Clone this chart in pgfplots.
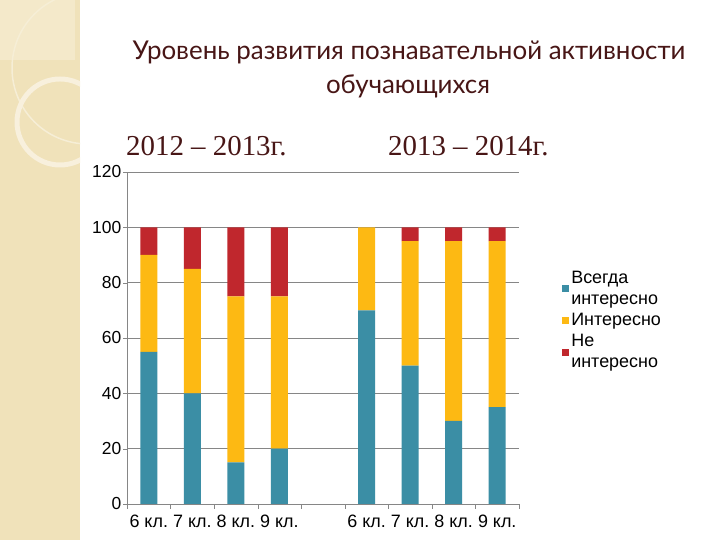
\documentclass[border=0pt]{standalone}
\usepackage{pgfplots}
\pgfplotsset{compat=1.18}
\usepackage{pgfplotstable}
\usepackage{fontspec}
\setmainfont{Liberation Sans}
\newfontfamily\titlefont{Lato}
\newfontfamily\yearfont{Liberation Serif}

\definecolor{cteal}{RGB}{59,142,165}
\definecolor{cyellow}{RGB}{253,185,19}
\definecolor{cred}{RGB}{192,39,45}
\definecolor{cgrid}{RGB}{134,134,134}
\definecolor{titlecol}{RGB}{72,22,22}
\definecolor{strip}{RGB}{240,226,186}
\definecolor{stripl}{RGB}{244,233,202}

% 1..4 = 2012-2013, 6..9 = 2013-2014
\pgfplotstableread{
x always interesting not
1 55 35 10
2 40 45 15
3 15 60 25
4 20 55 25
6 70 30 0
7 50 45 5
8 30 65 5
9 35 60 5
}\datatable

\begin{document}
\begin{tikzpicture}[x=1bp,y=1bp]
% slide background
\fill[white] (0,0) rectangle (720,540);
\fill[strip] (0,0) rectangle (80,540);
\begin{scope}
  \clip (0,0) rectangle (80,540);
  \fill[stripl] (0,480) rectangle (75,540);
  \draw[white!40!strip, line width=1.5pt] (88,472) circle (76);
  \draw[white!50!strip, line width=5pt] (60,418) circle (43);
\end{scope}

\begin{axis}[
  at={(127bp,36bp)}, anchor=south west,
  scale only axis, width=392bp, height=332bp,
  ybar stacked, bar width=17bp,
  xmin=0.5, xmax=9.5, ymin=0, ymax=120,
  ytick={0,20,...,120},
  xtick={1,2,3,4,6,7,8,9},
  xticklabels={6 кл.,7 кл.,8 кл.,9 кл.,6 кл.,7 кл.,8 кл.,9 кл.},
  minor xtick={0.5,1.5,2.5,3.5,4.5,5.5,6.5,7.5,8.5,9.5},
  major x tick style={draw=none},
  minor x tick style={draw=cgrid},
  ytick style={draw=cgrid},
  tick align=outside,
  major tick length=4bp, minor tick length=5bp,
  axis x line*=bottom, axis y line*=left,
  axis line style={-, draw=cgrid},
  ymajorgrids, grid style={cgrid, line width=0.6pt},
  yticklabel style={font=\fontsize{17.5}{20}\selectfont, black, inner xsep=1.5bp},
  xticklabel style={font=\fontsize{18}{21}\selectfont, black, inner xsep=0pt,
    text height=13bp, text depth=4bp, yshift=-3bp},
  /pgf/number format/assume math mode=true,
  legend style={at={(1.11,0.708)}, anchor=north west, draw=none, fill=none,
    font=\fontsize{18}{21}\selectfont, cells={align=left, anchor=west},
    row sep=3.5pt, inner sep=0pt},
  legend image code/.code={\fill[#1] (0bp,-3.5bp) rectangle (7bp,3.5bp);},
]
\addplot[fill=cteal, draw=none] table[x=x, y=always]{\datatable};
\addplot[fill=cyellow, draw=none] table[x=x, y=interesting]{\datatable};
\addplot[fill=cred, draw=none] table[x=x, y=not]{\datatable};
\legend{Всегда\\интересно, Интересно, Не\\интересно}
\end{axis}

% titles
\node[anchor=base, text=titlecol, font=\titlefont\fontsize{26}{32}\selectfont]
  at (409,480) {Уровень развития познавательной активности};
\node[anchor=base, text=titlecol, font=\titlefont\fontsize{26}{32}\selectfont]
  at (408,446) {обучающихся};
\node[anchor=base west, text=titlecol, font=\yearfont\fontsize{29}{34}\selectfont, inner sep=0pt]
  at (126,384) {2012 – 2013г.};
\node[anchor=base west, text=titlecol, font=\yearfont\fontsize{29}{34}\selectfont, inner sep=0pt]
  at (388,384) {2013 – 2014г.};
\end{tikzpicture}
\end{document}
